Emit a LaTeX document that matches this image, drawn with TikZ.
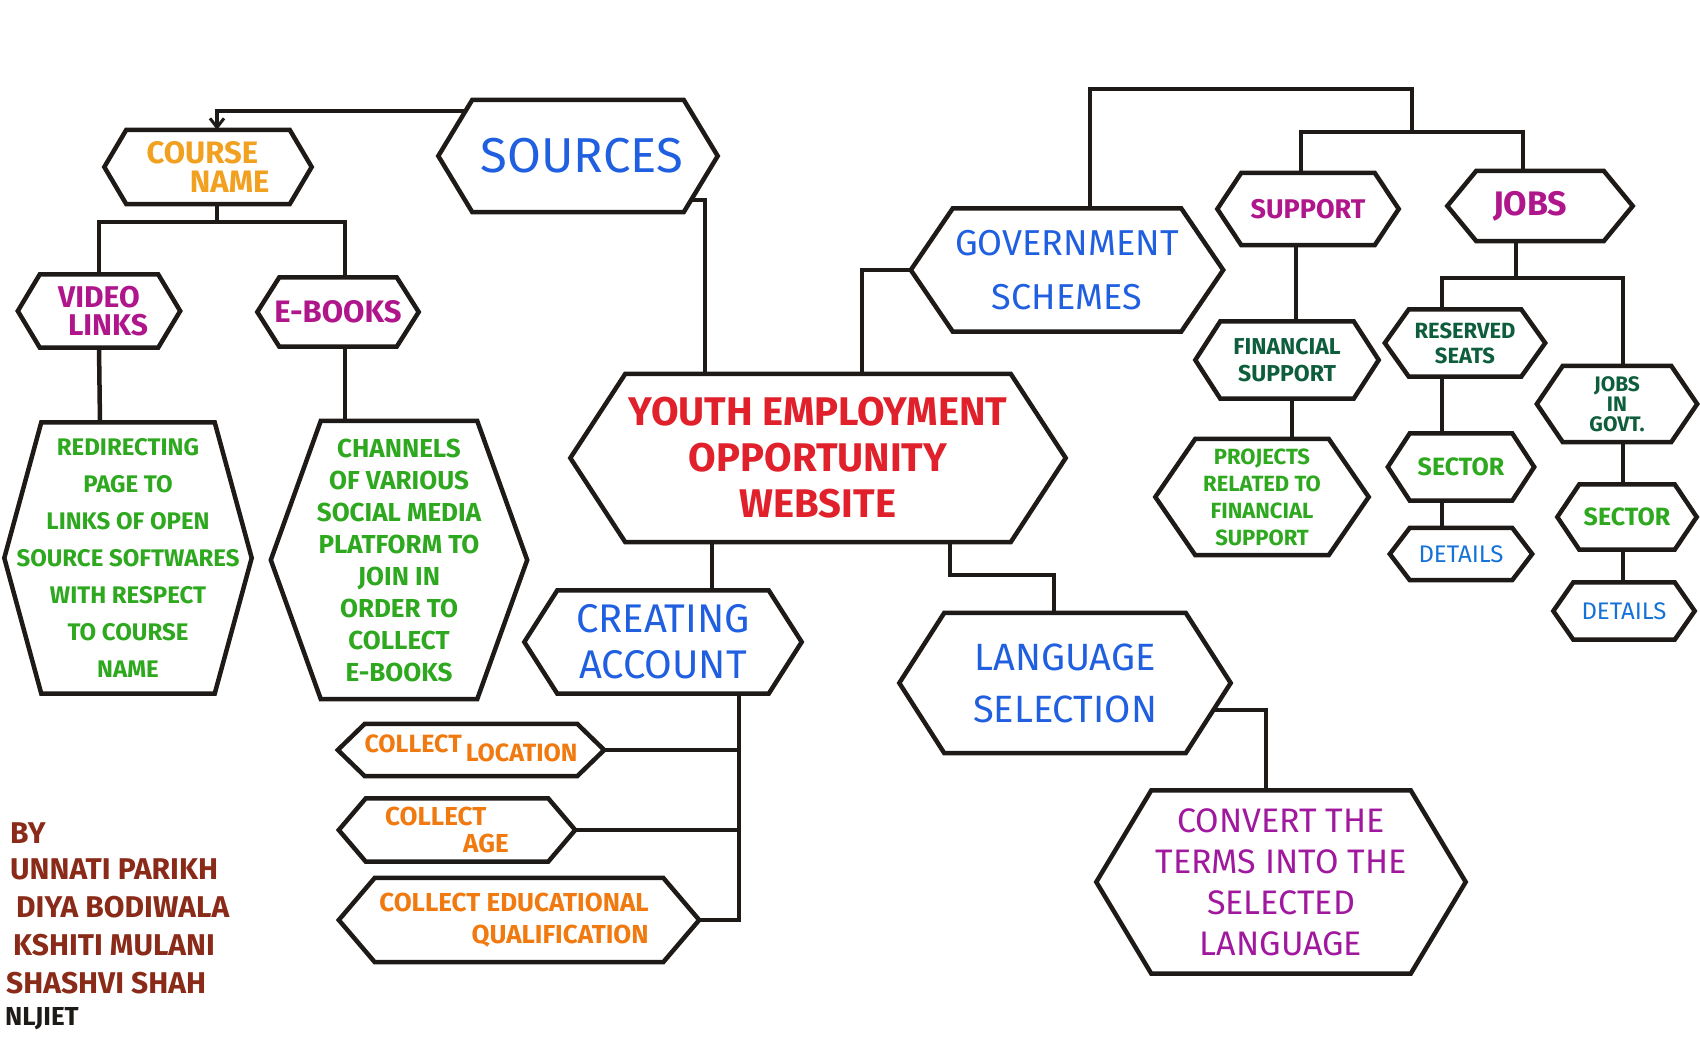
\documentclass[tikz,border=0pt]{standalone}
\usepackage{fontspec}
\setmainfont{Fira Sans}
\usetikzlibrary{arrows.meta,calc}
\definecolor{ink}{HTML}{1E1A18}
\definecolor{cblue}{HTML}{1F5FE0}
\definecolor{cdblue}{HTML}{1573D8}
\definecolor{cyorange}{HTML}{F2A01F}
\definecolor{corange}{HTML}{F07A10}
\definecolor{cmag}{HTML}{B0168C}
\definecolor{cpurp}{HTML}{A0189E}
\definecolor{cgreen}{HTML}{2EA81F}
\definecolor{cdgreen}{HTML}{0E5E3E}
\definecolor{cred}{HTML}{E0202A}
\definecolor{cbrown}{HTML}{8A2A18}
\tikzset{
  hexline/.style={draw=ink, line width=4.5pt, line join=miter, fill=white},
  conn/.style={draw=ink, line width=4.5pt},
  lbl/.style={align=center, inner sep=0pt},
  auth/.style={anchor=west, inner sep=0pt, text=cbrown, font=\fontsize{30}{30}\selectfont\bfseries},
}
\newcommand{\hexdef}[5]{%
  \node[minimum width=#4pt,minimum height=#5pt,inner sep=0pt] (#1) at (#2,#3) {};}
\newcommand{\hexdraw}[2]{%
  \draw[hexline] ([xshift=#2pt]#1.north west) -- ([xshift=-#2pt]#1.north east) -- (#1.east)
   -- ([xshift=-#2pt]#1.south east) -- ([xshift=#2pt]#1.south west) -- (#1.west) -- cycle;}
\newcommand{\fs}[2]{\fontsize{#1}{#2}\selectfont}
\begin{document}
\begin{tikzpicture}[x=1pt,y=-1pt]
\fill[white] (0,0) rectangle (1700,1038);
\clip (0,0) rectangle (1700,1038);
\useasboundingbox (0,0) rectangle (1700,1038);
% node frames
\hexdef{sources}{578}{156}{279}{112}
\hexdef{course}{208}{167}{207}{74}
\hexdef{video}{99}{311}{162}{73}
\hexdef{ebooks}{338}{312}{161}{69}
\hexdef{redir}{128}{558}{247}{271}
\hexdef{chan}{399}{560}{256}{278}
\hexdef{main}{818}{458}{495}{168}
\hexdef{gov}{1067}{270}{312}{123}
\hexdef{support}{1308}{209}{181}{72}
\hexdef{jobs}{1540}{206}{185}{70}
\hexdef{fin}{1287}{360}{183}{77}
\hexdef{proj}{1262}{497}{213}{116}
\hexdef{res}{1465}{343}{160}{67}
\hexdef{jig}{1617}{404}{160}{76}
\hexdef{sec1}{1461}{467}{146}{67}
\hexdef{det1}{1461}{554}{142}{52}
\hexdef{sec2}{1627}{517}{139}{65}
\hexdef{det2}{1624}{611}{141}{57}
\hexdef{create}{663}{642}{277}{103}
\hexdef{lang}{1065}{683}{331}{140}
\hexdef{convert}{1281}{882}{369}{183}
\hexdef{loc}{471}{750}{266}{52}
\hexdef{age}{457}{830}{236}{63}
\hexdef{edu}{519}{920}{360}{84}
% connector helper coordinates
\coordinate (srcA) at ([xshift=27pt,yshift=-11pt]sources.north west);
\coordinate (srcB) at ([xshift=-27pt,yshift=12pt]sources.south east);
\coordinate (cs) at ([xshift=9pt,yshift=-18pt]course.south);
\coordinate (gtop) at (1412,89);
\coordinate (sj) at (1412,132);
\coordinate (jj) at (1516,278);
\coordinate (lc) at (1000,575);
\coordinate (langA) at (1214,710);
\coordinate (trunk) at ([xshift=76pt]create.south);
% connectors
\draw[conn,-{Straight Barb[length=9pt,width=14pt,line width=3pt]}] (srcA) -| ([xshift=9pt]course.north);
\draw[conn] (srcB) -| ([xshift=-113pt]main.north);
\draw[conn] ([xshift=9pt]course.south) -- (cs);
\draw[conn] (video.north) |- (cs) -| ([xshift=7pt]ebooks.north);
\draw[conn] (video.south) -- ([xshift=-28pt]redir.north);
\draw[conn] ([xshift=7pt]ebooks.south) -- ([xshift=-54pt]chan.north);
\draw[conn] ([xshift=44pt]main.north) |- (gov.west);
\draw[conn] ([xshift=23pt]gov.north) |- (gtop) -- (sj);
\draw[conn] ([xshift=-7pt]support.north) |- (sj) -| ([xshift=-17pt]jobs.north);
\draw[conn] ([xshift=-12pt]support.south) -- ([xshift=9pt]fin.north);
\draw[conn] ([xshift=5pt]fin.south) -- ([xshift=30pt]proj.north);
\draw[conn] ([xshift=-24pt]jobs.south) -- (jj);
\draw[conn] ([xshift=-23pt]res.north) |- (jj) -| ([xshift=6pt]jig.north);
\draw[conn] ([xshift=-23pt]res.south) -- ([xshift=-19pt]sec1.north);
\draw[conn] ([xshift=-19pt]sec1.south) -- ([xshift=-19pt]det1.north);
\draw[conn] ([xshift=6pt]jig.south) -- ([xshift=-4pt]sec2.north);
\draw[conn] ([xshift=-4pt]sec2.south) -- ([xshift=-1pt]det2.north);
\draw[conn] ([xshift=-106pt]main.south) -- ([xshift=49pt]create.north);
\draw[conn] ([xshift=132pt]main.south) |- (lc) -| ([xshift=-11pt]lang.north);
\draw[conn] (langA) -| ([xshift=-15pt]convert.north);
\draw[conn] (trunk) |- (edu.east);
\draw[conn] (loc.east) -- (loc.east -| trunk);
\draw[conn] (age.east) -- (age.east -| trunk);
% hexagon outlines
\hexdraw{sources}{34}
\hexdraw{course}{22}
\hexdraw{video}{22}
\hexdraw{ebooks}{22}
\hexdraw{redir}{37}
\hexdraw{chan}{50}
\hexdraw{main}{55}
\hexdraw{gov}{42}
\hexdraw{support}{24}
\hexdraw{jobs}{29}
\hexdraw{fin}{25}
\hexdraw{proj}{40}
\hexdraw{res}{24}
\hexdraw{jig}{26}
\hexdraw{sec1}{22}
\hexdraw{det1}{20}
\hexdraw{sec2}{22}
\hexdraw{det2}{20}
\hexdraw{create}{33}
\hexdraw{lang}{45}
\hexdraw{convert}{55}
\hexdraw{loc}{27}
\hexdraw{age}{27}
\hexdraw{edu}{36}
% labels
\node[lbl,text=cblue,font=\fs{49}{49}] (sources-t) at ([xshift=4pt]sources) {SOURCES};
\node[lbl,text=cyorange,font=\fs{31}{29}\bfseries,align=left] (course-t) at ([xshift=0pt]course) {COURSE\\\hspace*{1.4em}NAME};
\node[lbl,text=cmag,font=\fs{30}{28}\bfseries] (video-t) at (video) {VIDEO\\\hspace*{0.6em}LINKS};
\node[lbl,text=cmag,font=\fs{31}{31}\bfseries] (ebooks-t) at (ebooks) {E-BOOKS};
\node[lbl,text=cgreen,font=\fs{24}{37}\bfseries] (redir-t) at (redir) {REDIRECTING\\PAGE TO\\LINKS OF OPEN\\SOURCE SOFTWARES\\WITH RESPECT\\TO COURSE\\NAME};
\node[lbl,text=cgreen,font=\fs{26}{32}\bfseries] (chan-t) at (chan) {CHANNELS\\OF VARIOUS\\SOCIAL MEDIA\\PLATFORM TO\\JOIN IN\\ORDER TO\\COLLECT\\E-BOOKS};
\node[lbl,text=cred,font=\fs{40}{46}\bfseries] (main-t) at (main) {YOUTH EMPLOYMENT\\OPPORTUNITY\\WEBSITE};
\node[lbl,text=cblue,font=\fs{36}{54}] (gov-t) at (gov) {GOVERNMENT\\SCHEMES};
\node[lbl,text=cmag,font=\fs{27}{27}\bfseries] (support-t) at (support) {SUPPORT};
\node[lbl,text=cmag,font=\fs{34}{34}\bfseries] (jobs-t) at ([xshift=-10pt]jobs) {JOBS};
\node[lbl,text=cdgreen,font=\fs{23}{27}\bfseries] (fin-t) at (fin) {FINANCIAL\\SUPPORT};
\node[lbl,text=cgreen,font=\fs{22}{27}\bfseries] (proj-t) at (proj) {PROJECTS\\RELATED TO\\FINANCIAL\\SUPPORT};
\node[lbl,text=cdgreen,font=\fs{22}{25}\bfseries] (res-t) at (res) {RESERVED\\SEATS};
\node[lbl,text=cdgreen,font=\fs{21}{20}\bfseries] (jig-t) at (jig) {JOBS\\IN\\GOVT.};
\node[lbl,text=cgreen,font=\fs{25}{25}\bfseries] (sec1-t) at (sec1) {SECTOR};
\node[lbl,text=cgreen,font=\fs{25}{25}\bfseries] (sec2-t) at (sec2) {SECTOR};
\node[lbl,text=cdblue,font=\fs{24}{24}] (det1-t) at (det1) {DETAILS};
\node[lbl,text=cdblue,font=\fs{24}{24}] (det2-t) at (det2) {DETAILS};
\node[lbl,text=cblue,font=\fs{40}{46}] (create-t) at (create) {CREATING\\ACCOUNT};
\node[lbl,text=cblue,font=\fs{38}{52}] (lang-t) at (lang) {LANGUAGE\\SELECTION};
\node[lbl,text=cpurp,font=\fs{34}{41}] (convert-t) at (convert) {CONVERT THE\\TERMS INTO THE\\SELECTED\\LANGUAGE};
\node[lbl,text=corange,font=\fs{25}{25}\bfseries] (loc-t) at ([yshift=2pt]loc) {COLLECT\,\raisebox{-9pt}{LOCATION}};
\node[lbl,text=corange,font=\fs{26}{27}\bfseries,align=left] (age-t) at ([xshift=-10pt]age) {COLLECT\\\hspace*{3em}AGE};
\node[lbl,text=corange,font=\fs{26}{32}\bfseries,align=right] (edu-t) at ([xshift=-5pt]edu) {COLLECT EDUCATIONAL\\QUALIFICATION};
% authors
\node[auth] (au1) at (10,833) {BY};
\node[auth] (au2) at (10,869) {UNNATI PARIKH};
\node[auth] (au3) at (16,907) {DIYA BODIWALA};
\node[auth] (au4) at (13,945) {KSHITI MULANI};
\node[auth] (au5) at (6,983) {SHASHVI SHAH};
\node[auth,text=ink,font=\fontsize{26}{26}\selectfont\bfseries] (au6) at (5,1019) {NLJIET};
\end{tikzpicture}
\end{document}
